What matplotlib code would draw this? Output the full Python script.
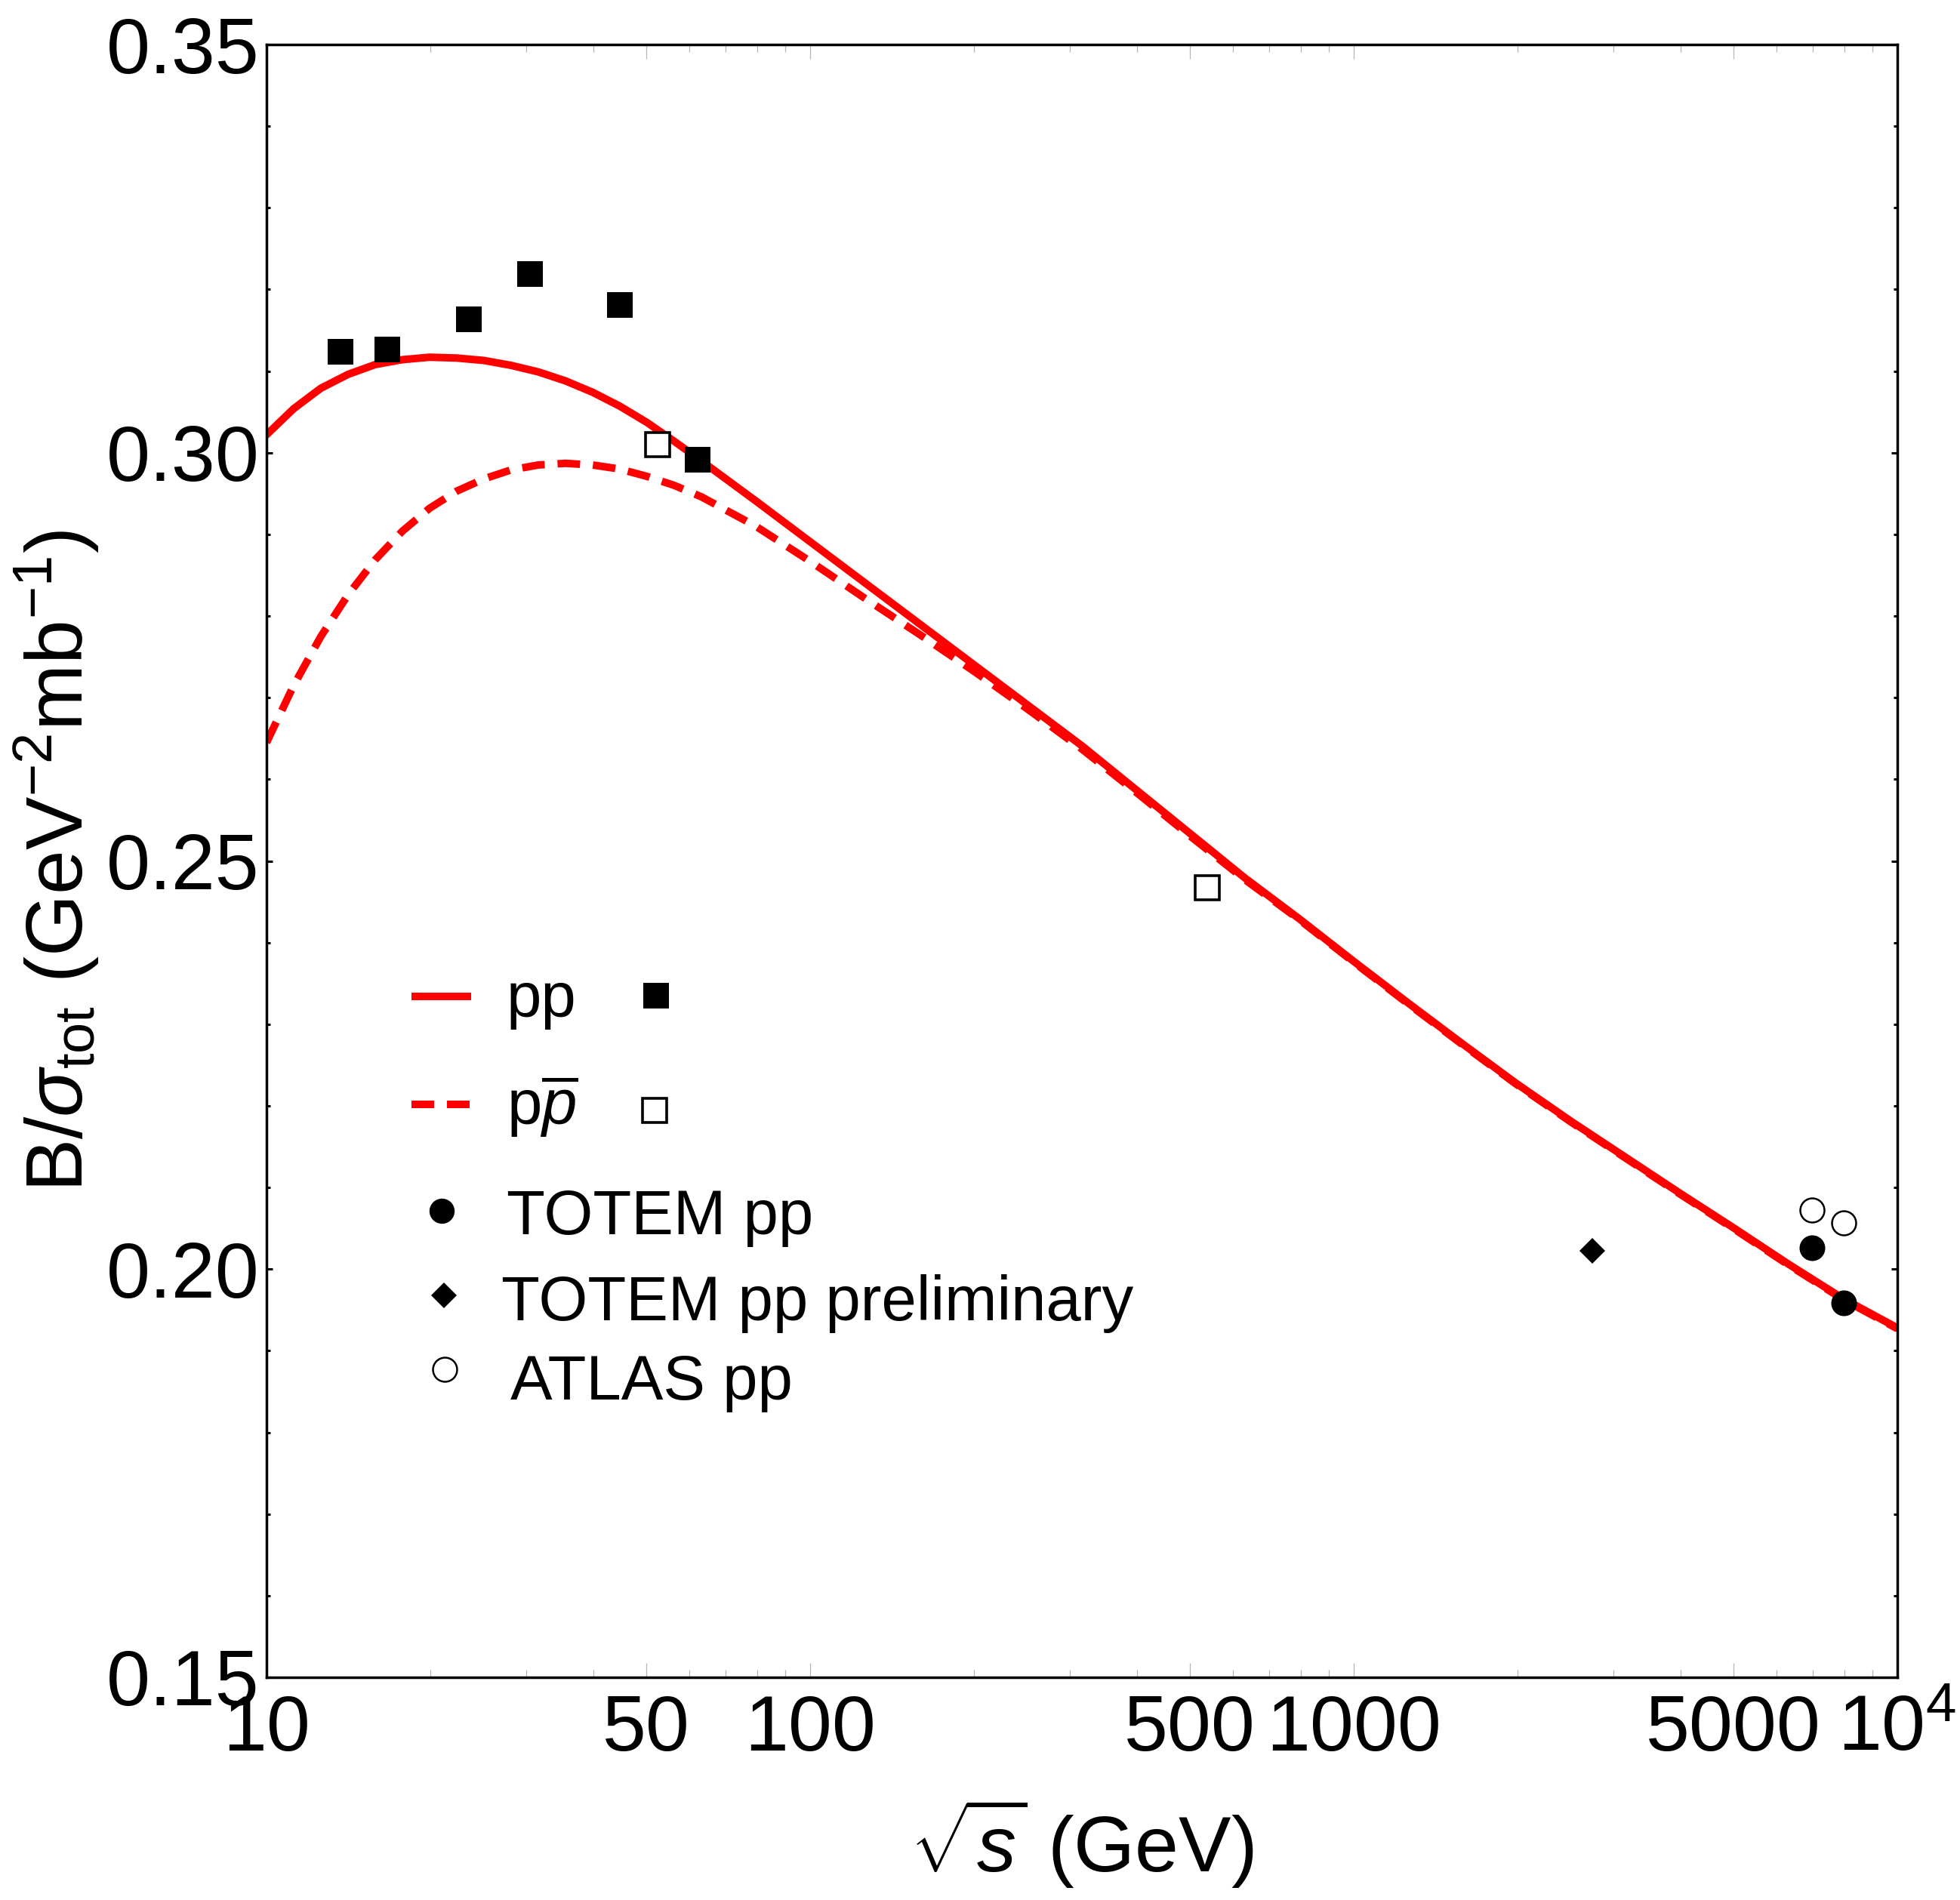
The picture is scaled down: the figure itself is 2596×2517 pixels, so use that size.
import numpy as np
import matplotlib
matplotlib.use("Agg")
import matplotlib.pyplot as plt
from matplotlib.ticker import FixedLocator, FixedFormatter, NullFormatter

plt.rcParams['font.family'] = ['Liberation Sans', 'DejaVu Sans']
plt.rcParams['mathtext.fontset'] = 'custom'
plt.rcParams['mathtext.rm'] = 'Liberation Sans'
plt.rcParams['mathtext.it'] = 'Liberation Sans:italic'
plt.rcParams['mathtext.bf'] = 'Liberation Sans:bold'

# ---------------- data ----------------
# model curves: log10(sqrt(s)/GeV) and B/sigma_tot
log_sqrt_s_pp = [1.00, 1.05, 1.10, 1.15, 1.20, 1.25, 1.30, 1.35, 1.40, 1.45,
                 1.50, 1.55, 1.60, 1.65, 1.70, 1.75, 1.80, 1.90, 2.00, 2.10,
                 2.20, 2.30, 2.40, 2.50, 2.60, 2.70, 2.80, 2.90, 3.00, 3.10,
                 3.20, 3.30, 3.40, 3.50, 3.60, 3.70, 3.80, 3.90, 4.00]
ratio_pp = [0.3022, 0.3054, 0.3079, 0.3096, 0.3108, 0.3114, 0.3117, 0.3116, 0.3113, 0.3107,
            0.3099, 0.3088, 0.3074, 0.3057, 0.3037, 0.3014, 0.2990, 0.2941, 0.2891, 0.2841,
            0.2791, 0.2741, 0.2691, 0.2641, 0.2587, 0.2533, 0.2479, 0.2429, 0.2377, 0.2326,
            0.2276, 0.2227, 0.2181, 0.2137, 0.2093, 0.2050, 0.2006, 0.1964, 0.1928]

log_sqrt_s_ppbar = [1.00, 1.05, 1.10, 1.15, 1.20, 1.25, 1.30, 1.35, 1.40, 1.45,
                    1.50, 1.55, 1.60, 1.65, 1.70, 1.75, 1.80, 1.90, 2.00, 2.10,
                    2.20, 2.30, 2.40, 2.50, 2.60, 2.70, 2.80, 2.90, 3.00, 3.10,
                    3.20, 3.30, 3.40, 3.50, 3.60, 3.70, 3.80, 3.90, 4.00]
ratio_ppbar = [0.2645, 0.2715, 0.2775, 0.2826, 0.2869, 0.2904, 0.2932, 0.2953, 0.2968, 0.2979,
               0.2985, 0.2987, 0.2985, 0.2980, 0.2971, 0.2960, 0.2946, 0.2910, 0.2867, 0.2822,
               0.2778, 0.2733, 0.2686, 0.2637, 0.2584, 0.2530, 0.2477, 0.2428, 0.2376, 0.2325,
               0.2275, 0.2226, 0.2180, 0.2136, 0.2092, 0.2049, 0.2005, 0.1963, 0.1927]

# experimental points
isr_pp_sqrt_s = [13.7, 16.7, 23.6, 30.5, 44.7, 62.0]
isr_pp_ratio = [0.3124, 0.3126, 0.3163, 0.3219, 0.3181, 0.2991]

ppbar_sqrt_s = [52.4, 538.0]
ppbar_ratio = [0.3010, 0.2467]

totem_sqrt_s = [6970.0, 7960.0]
totem_ratio = [0.2026, 0.1959]

totem_prelim_sqrt_s = [2750.0]
totem_prelim_ratio = [0.2022]

atlas_sqrt_s = [6970.0, 7960.0]
atlas_ratio = [0.2072, 0.2057]

x_major = [10, 50, 100, 500, 1000, 5000, 10000]
x_major_labels = ["10", "50", "100", "500", "1000", "5000", r"$10^4$"]
x_minor = [20, 30, 40, 60, 70, 80, 90, 200, 300, 400, 600, 700, 800, 900,
           2000, 3000, 4000, 6000, 7000, 8000, 9000]
y_major = [0.15, 0.20, 0.25, 0.30, 0.35]
y_major_labels = ["0.15", "0.20", "0.25", "0.30", "0.35"]
y_minor = [0.16, 0.17, 0.18, 0.19, 0.21, 0.22, 0.23, 0.24, 0.26, 0.27, 0.28, 0.29,
           0.31, 0.32, 0.33, 0.34]

legend_labels = ["pp", r"p$\overline{p}$", "TOTEM pp", "TOTEM pp preliminary", "ATLAS pp"]

# ---------------- figure ----------------
W, H = 2596, 2517
fig = plt.figure(figsize=(W / 100, H / 100), dpi=100)
L, R, T, B = 353, 2513, 59, 2222
ax = fig.add_axes([L / W, 1 - B / H, (R - L) / W, (B - T) / H])

red = "#ff0000"
lw = 7.2
ax.plot(10 ** np.array(log_sqrt_s_pp), ratio_pp, color=red, lw=lw,
        solid_joinstyle='round', zorder=2)
ax.plot(10 ** np.array(log_sqrt_s_ppbar), ratio_ppbar, color=red, lw=lw,
        dashes=(3.0, 1.7), zorder=2)

ms_sq = 25
ax.plot(isr_pp_sqrt_s, isr_pp_ratio, ls='none', marker='s', ms=ms_sq, mfc='black',
        mec='black', mew=0, zorder=3)
ax.plot(ppbar_sqrt_s, ppbar_ratio, ls='none', marker='s', ms=23, mfc='white',
        mec='black', mew=2.6, zorder=3)
ax.plot(totem_sqrt_s, totem_ratio, ls='none', marker='o', ms=24.5, mfc='black',
        mec='black', mew=0, zorder=3)
ax.plot(totem_prelim_sqrt_s, totem_prelim_ratio, ls='none', marker='D', ms=17.5,
        mfc='black', mec='black', mew=0, zorder=3)
ax.plot(atlas_sqrt_s, atlas_ratio, ls='none', marker='o', ms=23, mfc='white',
        mec='black', mew=1.8, zorder=3)

ax.set_xscale('log')
ax.set_xlim(10, 10000)
ax.set_ylim(0.15, 0.35)

ax.xaxis.set_major_locator(FixedLocator(x_major))
ax.xaxis.set_major_formatter(FixedFormatter(x_major_labels))
ax.xaxis.set_minor_locator(FixedLocator(x_minor))
ax.xaxis.set_minor_formatter(NullFormatter())
ax.yaxis.set_major_locator(FixedLocator(y_major))
ax.yaxis.set_major_formatter(FixedFormatter(y_major_labels))
ax.yaxis.set_minor_locator(FixedLocator(y_minor))

fs_tick = 75
ax.tick_params(axis='x', which='major', direction='in', length=14, width=0.9,
               color='#b5b5b5', top=True, bottom=True, labelsize=fs_tick, pad=16)
ax.tick_params(axis='x', which='minor', direction='in', length=7, width=0.9,
               color='#b5b5b5', top=True, bottom=True)
ax.tick_params(axis='y', which='major', direction='in', length=6, width=2.2,
               color='black', left=True, right=True, labelsize=fs_tick, pad=7)
ax.tick_params(axis='y', which='minor', direction='in', length=3.5, width=2.2,
               color='black', left=True, right=True)
for s in ax.spines.values():
    s.set_linewidth(2.5)

ax.set_xlabel(r"$\sqrt{s}$ (GeV)", fontsize=75)
ax.xaxis.set_label_coords(0.5, (B - 2442) / (B - T))
ax.xaxis.label.set_va('center')
ax.set_ylabel(r"B/$\sigma_{\mathrm{tot}}$ (GeV$^{-2}$mb$^{-1}$)", fontsize=76)
ax.yaxis.set_label_coords((75 - L) / (R - L), 0.5)
ax.yaxis.label.set_va('center')


# ---------------- hand-placed legend (Mathematica style) ----------------
def axf(X, Y):
    return (X - L) / (R - L), (B - Y) / (B - T)


tr = ax.transAxes
fs_leg = 60
x0, y0 = axf(545, 1320); x1, _ = axf(624, 1320)
ax.plot([x0, x1], [y0, y0], color=red, lw=lw, transform=tr, clip_on=False,
        solid_capstyle='butt')
x0, y0 = axf(545, 1463); x1, _ = axf(622, 1463)
ax.plot([x0, x1], [y0, y0], color=red, lw=lw, dashes=(3.0, 1.7), transform=tr,
        clip_on=False)
ax.plot(*axf(869, 1319), marker='s', ms=ms_sq, mfc='black', mec='black', mew=0,
        transform=tr, clip_on=False)
ax.plot(*axf(867, 1471), marker='s', ms=23, mfc='white', mec='black', mew=2.6,
        transform=tr, clip_on=False)
ax.plot(*axf(585, 1604), marker='o', ms=24, mfc='black', mec='black', mew=0,
        transform=tr, clip_on=False)
ax.plot(*axf(588, 1716), marker='D', ms=17, mfc='black', mec='black', mew=0,
        transform=tr, clip_on=False)
ax.plot(*axf(589, 1814), marker='o', ms=23, mfc='white', mec='black', mew=1.8,
        transform=tr, clip_on=False)

text_pos = [(671, 1347), (671, 1490), (671, 1635), (664, 1749), (676, 1854)]
for (X, Y), lab in zip(text_pos, legend_labels):
    ax.text(*axf(X, Y), lab, transform=tr, fontsize=fs_leg, ha='left', va='baseline')

fig.savefig("out.png", dpi=100, facecolor='white')
